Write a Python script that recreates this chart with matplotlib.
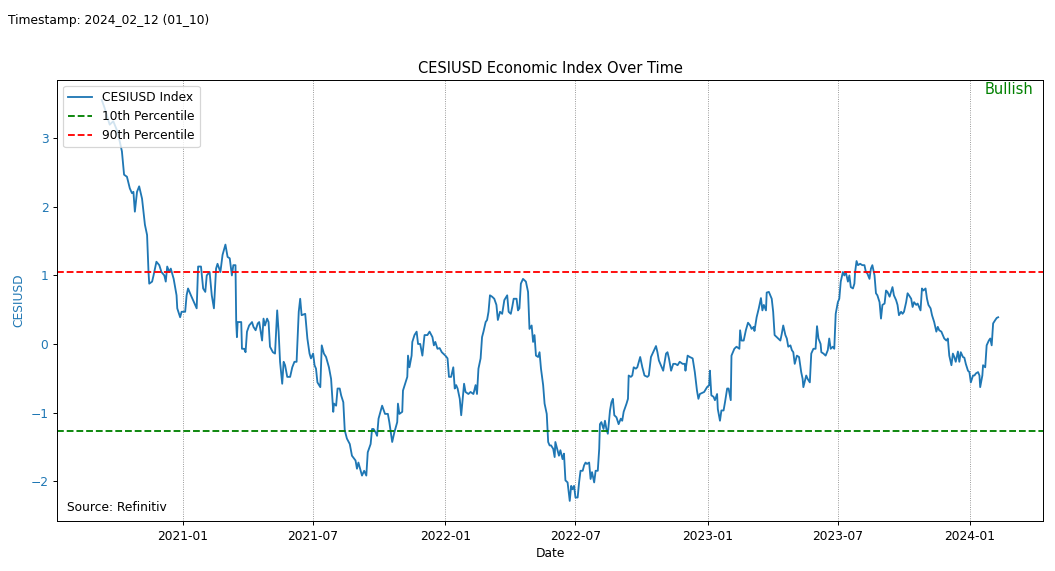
import matplotlib
matplotlib.use("Agg")
import matplotlib.pyplot as plt
import matplotlib.dates as mdates
import pandas as pd

start_date = "2020-09-10"
day_offsets = [
    0, 4, 11, 16, 21, 23, 28, 31, 35, 39, 42, 44, 46, 49, 52, 56, 60, 63, 65, 66,
    70, 72, 76, 80, 83, 87, 89, 91, 94, 96, 100, 104, 105, 109, 111, 116, 118, 120, 124, 127,
    130, 132, 134, 138, 141, 144, 146, 150, 153, 156, 159, 161, 165, 168, 172, 175, 178, 181, 183, 186,
    187, 188, 189, 194, 195, 198, 200, 202, 205, 209, 211, 214, 217, 219, 223, 225, 227, 230, 232, 234,
    238, 241, 244, 246, 248, 251, 253, 255, 258, 262, 265, 268, 271, 274, 276, 278, 283, 286, 289, 291,
    294, 296, 298, 300, 304, 306, 309, 312, 316, 319, 322, 323, 326, 328, 331, 333, 336, 338, 341, 345,
    348, 353, 355, 357, 362, 365, 368, 370, 374, 376, 378, 381, 383, 385, 390, 394, 398, 400, 404, 407,
    411, 412, 414, 418, 419, 422, 425, 426, 428, 431, 432, 435, 438, 440, 443, 446, 449, 453, 456, 460,
    462, 464, 467, 470, 473, 478, 481, 483, 486, 489, 491, 493, 495, 498, 500, 504, 506, 510, 513, 517,
    520, 522, 524, 527, 529, 531, 534, 536, 538, 540, 543, 546, 549, 551, 554, 557, 560, 564, 566, 569,
    571, 573, 577, 579, 581, 583, 586, 590, 593, 595, 598, 600, 602, 604, 607, 609, 611, 614, 616, 619,
    621, 623, 625, 628, 630, 631, 634, 636, 638, 641, 643, 645, 648, 651, 653, 655, 657, 659, 662, 664,
    666, 669, 671, 673, 675, 678, 680, 682, 685, 687, 690, 692, 693, 695, 698, 700, 702, 704, 707, 709,
    711, 713, 716, 719, 722, 724, 726, 730, 732, 733, 736, 738, 740, 743, 745, 749, 752, 755, 759, 761,
    764, 767, 771, 773, 775, 779, 781, 785, 787, 789, 792, 795, 798, 801, 804, 808, 811, 812, 815, 818,
    822, 825, 828, 830, 832, 838, 842, 845, 846, 848, 851, 853, 856, 857, 860, 862, 865, 867, 870, 872,
    875, 876, 880, 883, 887, 888, 890, 893, 896, 899, 902, 904, 907, 908, 911, 914, 917, 919, 921, 924,
    925, 928, 932, 934, 936, 940, 944, 946, 948, 951, 953, 955, 958, 960, 962, 964, 967, 970, 973, 975,
    976, 980, 982, 985, 987, 990, 993, 995, 997, 1000, 1001, 1004, 1007, 1010, 1012, 1014, 1017, 1019, 1021, 1024,
    1026, 1028, 1031, 1033, 1035, 1038, 1040, 1042, 1045, 1047, 1048, 1050, 1052, 1055, 1058, 1061, 1063, 1065, 1068, 1070,
    1072, 1075, 1077, 1079, 1082, 1084, 1086, 1089, 1091, 1093, 1096, 1098, 1100, 1102, 1105, 1107, 1109, 1112, 1114, 1116,
    1119, 1121, 1123, 1126, 1128, 1130, 1133, 1135, 1139, 1141, 1143, 1146, 1148, 1150, 1153, 1155, 1158, 1161, 1163, 1165,
    1168, 1170, 1172, 1175, 1177, 1179, 1182, 1184, 1186, 1188, 1191, 1193, 1195, 1198, 1200, 1202, 1205, 1207, 1209, 1212,
    1214, 1216, 1219, 1221, 1222, 1225, 1226, 1229, 1231, 1234, 1236, 1238, 1240, 1243, 1245, 1247,
]
cesi_values = [
    3.56, 3.44, 3.20, 3.25, 3.12, 3.05, 2.81, 2.47, 2.44, 2.27, 2.20, 2.22, 1.93, 2.22, 2.30, 2.12, 1.74, 1.59, 1.05, 0.88,
    0.91, 1.00, 1.20, 1.15, 1.05, 1.00, 0.91, 1.13, 1.05, 1.10, 0.95, 0.71, 0.52, 0.39, 0.47, 0.47, 0.71, 0.81, 0.71, 0.64,
    0.57, 0.52, 1.13, 1.13, 0.81, 0.76, 1.00, 1.05, 0.71, 0.52, 1.10, 1.17, 1.05, 1.30, 1.45, 1.27, 1.25, 1.00, 1.15, 1.15,
    0.32, 0.10, 0.32, 0.32, -0.07, -0.07, -0.12, 0.18, 0.27, 0.32, 0.25, 0.20, 0.30, 0.32, 0.05, 0.37, 0.27, 0.37, 0.32, -0.04,
    -0.12, -0.14, 0.49, 0.18, -0.26, -0.58, -0.26, -0.31, -0.48, -0.48, -0.34, -0.26, -0.26, 0.47, 0.66, 0.42, 0.44, 0.08, -0.14, -0.21,
    -0.14, -0.31, -0.36, -0.56, -0.63, -0.02, -0.14, -0.19, -0.34, -0.51, -0.99, -0.87, -0.90, -0.65, -0.65, -0.75, -0.85, -1.26, -1.38, -1.46,
    -1.63, -1.70, -1.82, -1.73, -1.92, -1.85, -1.92, -1.58, -1.46, -1.24, -1.24, -1.29, -1.34, -1.09, -0.90, -1.02, -1.02, -1.14, -1.43, -1.29,
    -1.14, -0.87, -1.02, -0.99, -0.68, -0.58, -0.48, -0.17, -0.34, -0.17, 0.03, 0.13, 0.18, 0.00, 0.00, -0.17, 0.13, 0.13, 0.18, 0.10,
    -0.02, 0.03, -0.07, -0.06, -0.12, -0.17, -0.21, -0.48, -0.48, -0.34, -0.65, -0.60, -0.65, -0.80, -1.04, -0.58, -0.70, -0.73, -0.70, -0.73,
    -0.60, -0.73, -0.36, -0.21, 0.10, 0.18, 0.32, 0.35, 0.47, 0.71, 0.69, 0.66, 0.57, 0.35, 0.47, 0.44, 0.64, 0.71, 0.47, 0.44,
    0.54, 0.66, 0.66, 0.49, 0.52, 0.88, 0.95, 0.91, 0.76, 0.22, 0.27, 0.03, 0.13, -0.17, -0.19, -0.12, -0.36, -0.60, -0.87, -1.02,
    -1.43, -1.48, -1.48, -1.53, -1.65, -1.43, -1.55, -1.63, -1.55, -1.68, -1.60, -1.99, -2.02, -2.29, -2.07, -2.12, -2.07, -2.24, -2.24, -2.02,
    -1.85, -1.85, -1.77, -1.73, -1.75, -1.73, -1.97, -1.87, -2.02, -1.85, -1.85, -1.53, -1.17, -1.14, -1.24, -1.12, -1.24, -1.31, -0.97, -0.85,
    -0.80, -1.04, -1.07, -1.17, -1.09, -1.12, -0.99, -0.87, -0.80, -0.46, -0.48, -0.46, -0.34, -0.36, -0.34, -0.19, -0.34, -0.46, -0.48, -0.46,
    -0.19, -0.12, -0.03, -0.12, -0.24, -0.34, -0.39, -0.14, -0.12, -0.21, -0.39, -0.29, -0.29, -0.31, -0.26, -0.29, -0.29, -0.39, -0.17, -0.19,
    -0.21, -0.41, -0.68, -0.80, -0.73, -0.70, -0.63, -0.60, -0.39, -0.75, -0.77, -0.82, -0.73, -0.95, -1.12, -0.97, -0.97, -0.85, -0.65, -0.65,
    -0.82, -0.17, -0.07, -0.04, -0.07, 0.20, 0.05, 0.05, 0.20, 0.31, 0.27, 0.22, 0.25, 0.19, 0.39, 0.52, 0.67, 0.49, 0.57, 0.49,
    0.75, 0.76, 0.66, 0.47, 0.13, 0.09, 0.05, 0.15, 0.27, 0.13, 0.08, -0.04, -0.02, -0.09, -0.12, -0.29, -0.17, -0.19, -0.41, -0.51,
    -0.63, -0.46, -0.51, -0.56, -0.14, -0.07, -0.07, 0.26, 0.08, 0.00, -0.12, -0.14, -0.17, -0.09, 0.08, -0.07, -0.04, -0.07, 0.44, 0.61,
    0.66, 0.91, 1.05, 1.00, 1.05, 0.91, 1.00, 0.83, 0.81, 0.88, 1.05, 1.21, 1.15, 1.17, 1.15, 1.15, 1.05, 1.03, 0.95, 1.10,
    1.15, 1.00, 0.74, 0.71, 0.61, 0.37, 0.57, 0.59, 0.78, 0.76, 0.69, 0.76, 0.83, 0.71, 0.64, 0.57, 0.42, 0.47, 0.44, 0.47,
    0.61, 0.74, 0.71, 0.66, 0.54, 0.61, 0.57, 0.59, 0.49, 0.81, 0.78, 0.81, 0.66, 0.57, 0.52, 0.42, 0.32, 0.18, 0.25, 0.20,
    0.18, 0.13, 0.08, 0.05, 0.08, -0.17, -0.31, -0.14, -0.19, -0.26, -0.11, -0.26, -0.12, -0.19, -0.20, -0.29, -0.39, -0.41, -0.56, -0.46,
    -0.46, -0.43, -0.41, -0.46, -0.63, -0.46, -0.31, -0.34, -0.02, 0.05, 0.08, -0.02, 0.30, 0.35, 0.38, 0.39,
]
p10 = -1.27
p90 = 1.05

dates = pd.Timestamp(start_date) + pd.to_timedelta(day_offsets, unit="D")

DPI = 88
fig = plt.figure(figsize=(1055 / DPI, 571 / DPI), dpi=DPI)
ax = fig.add_axes([0.054, 0.0876, 0.9346, 0.7724])

ax.plot(dates, cesi_values, color="tab:blue", linewidth=1.5, label="CESIUSD Index")
ax.axhline(p10, color="green", linestyle="--", linewidth=1.5, label="10th Percentile")
ax.axhline(p90, color="red", linestyle="--", linewidth=1.5, label="90th Percentile")

ax.xaxis.set_major_locator(mdates.MonthLocator(bymonth=[1, 7]))
ax.xaxis.set_major_formatter(mdates.DateFormatter("%Y-%m"))
ax.grid(True, axis="x", color="gray", linestyle=":", linewidth=0.7)
ax.set_xlabel("Date")
ax.set_ylabel("CESIUSD", color="tab:blue")
ax.tick_params(axis="y", labelcolor="tab:blue")
ax.set_title("CESIUSD Economic Index Over Time")
ax.legend(loc="upper left")

ax.text(0.99, 0.996, "Bullish", transform=ax.transAxes, ha="right", va="top",
        color="green", fontsize=12)
ax.text(0.01, 0.015, "Source: Refinitiv", transform=ax.transAxes, ha="left",
        va="bottom", fontsize=10)
fig.text(0.008, 0.975, "Timestamp: 2024_02_12 (01_10)", ha="left", va="top", fontsize=10)

fig.savefig("out.png", dpi=DPI)
